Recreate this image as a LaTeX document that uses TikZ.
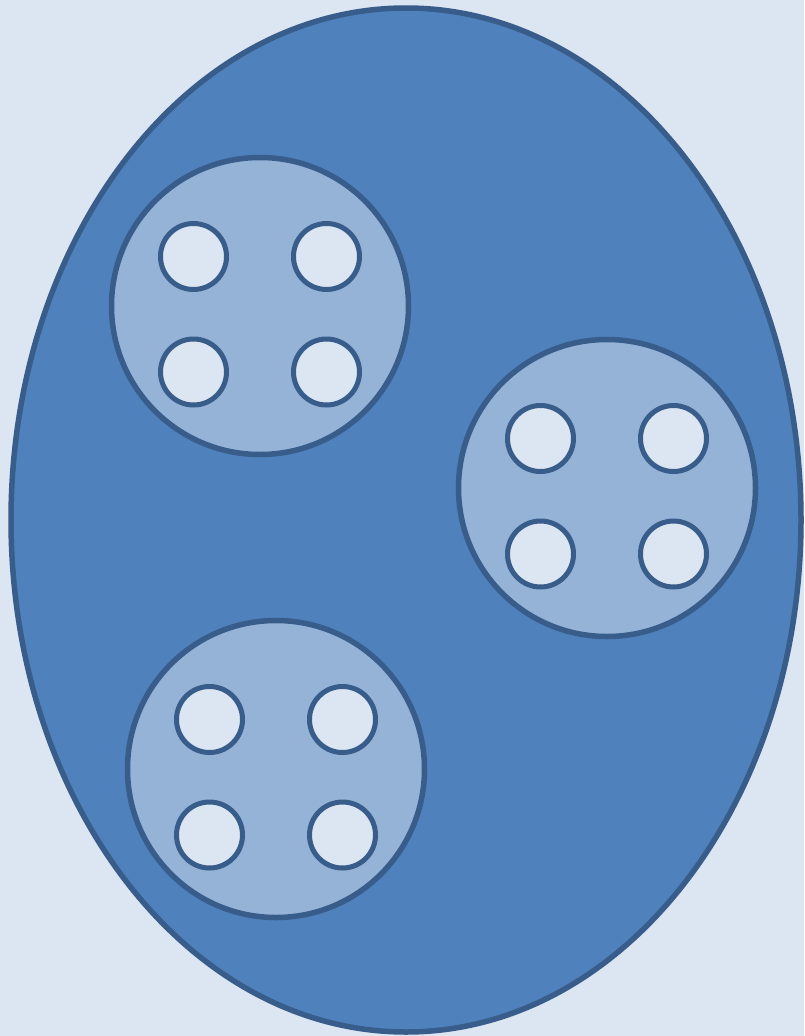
\documentclass[tikz,border=0pt]{standalone}
\definecolor{bgc}{HTML}{DCE6F2}
\definecolor{bigfill}{HTML}{4F81BD}
\definecolor{edgec}{HTML}{385D8A}
\definecolor{midfill}{HTML}{95B3D7}
\definecolor{smallfill}{HTML}{DCE6F2}
\tikzset{
  bigshape/.style={fill=bigfill,draw=edgec,line width=5.5pt},
  midshape/.style={fill=midfill,draw=edgec,line width=5.5pt},
  smallshape/.style={fill=smallfill,draw=edgec,line width=5pt}
}
\begin{document}
\begin{tikzpicture}[x=1pt,y=-1pt]
\fill[bgc] (0,0) rectangle (804,1036);
\useasboundingbox (0,0) rectangle (804,1036);
\draw[bigshape] (406,520) ellipse [x radius=395, y radius=512];
\foreach \cx/\cy in {260/306, 607/488, 276/769}{
  \draw[midshape] (\cx,\cy) circle [radius=148.5];
  \foreach \dx/\dy in {-66.5/-49.5, 66.5/-49.5, -66.5/66, 66.5/66}{
    \draw[smallshape] (\cx+\dx,\cy+\dy) circle [radius=33];
  }
}
\end{tikzpicture}
\end{document}
